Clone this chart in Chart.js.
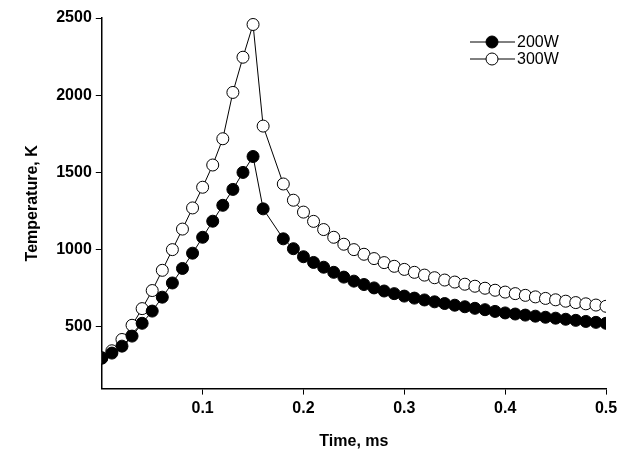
<!DOCTYPE html>
<html>
<head>
<meta charset="utf-8">
<script src="https://cdn.jsdelivr.net/npm/chart.js@4/dist/chart.umd.min.js"></script>
<style>
  html, body { margin: 0; padding: 0; background: #fff; }
  #wrap { width: 630px; height: 455px; }
</style>
</head>
<body>
<div id="wrap"><canvas id="c"></canvas></div>
<script>
// time in ms (0.17 is missing in the original)
const times = [0, 0.01, 0.02, 0.03, 0.04, 0.05, 0.06, 0.07, 0.08, 0.09, 0.10,
  0.11, 0.12, 0.13, 0.14, 0.15, 0.16, 0.18, 0.19, 0.20, 0.21, 0.22, 0.23, 0.24,
  0.25, 0.26, 0.27, 0.28, 0.29, 0.30, 0.31, 0.32, 0.33, 0.34, 0.35, 0.36, 0.37,
  0.38, 0.39, 0.40, 0.41, 0.42, 0.43, 0.44, 0.45, 0.46, 0.47, 0.48, 0.49, 0.50];

const temp200 = [297, 330, 375, 440, 523, 602, 692, 784, 878, 977, 1080,
  1184, 1287, 1390, 1500, 1603, 1264, 1070, 1006, 954, 917, 886, 853, 822,
  796, 774, 752, 732, 715, 699, 686, 674, 662, 651, 640, 630, 620, 611, 600, 590,
  583, 576, 569, 562, 556, 549, 542, 535, 529, 523];

const temp300 = [300, 345, 418, 510, 618, 735, 866, 1000, 1133, 1270, 1404,
  1548, 1718, 2018, 2246, 2458, 1800, 1425, 1320, 1243, 1183, 1130, 1080, 1035,
  1000, 970, 942, 916, 892, 872, 853, 835, 818, 803, 790, 776, 763, 750, 737, 725,
  715, 704, 694, 684, 675, 666, 657, 649, 641, 633];

const seriesNames = ["200W", "300W"];
const yTicks = [500, 1000, 1500, 2000, 2500];
const xTicks = [0.1, 0.2, 0.3, 0.4, 0.5];

const FONT = "'Liberation Sans', Arial, sans-serif";
const axisFont = { family: FONT, size: 16, weight: "bold" };

const toPoints = vals => times.map((t, i) => ({ x: t, y: vals[i] }));

/* ---------- legend drawn like the original: line through marker ---------- */
const legendPlugin = {
  id: "lineLegend",
  afterDraw(chart) {
    const ctx = chart.ctx;
    const x0 = 470, y0 = 42, gap = 17;
    chart.data.datasets.forEach((ds, i) => {
      const y = y0 + i * gap;
      ctx.save();
      ctx.strokeStyle = "#000";
      ctx.lineWidth = 1;
      ctx.beginPath();
      ctx.moveTo(x0, y); ctx.lineTo(x0 + 45, y);
      ctx.stroke();
      ctx.beginPath();
      ctx.arc(x0 + 22, y, 6, 0, Math.PI * 2);
      ctx.fillStyle = ds.pointBackgroundColor;
      ctx.fill();
      ctx.stroke();
      ctx.fillStyle = "#000";
      ctx.font = "16px " + FONT;
      ctx.textBaseline = "middle";
      ctx.fillText(ds.label, x0 + 47, y + 1);
      ctx.restore();
    });
  }
};

new Chart(document.getElementById("c"), {
  type: "line",
  data: {
    datasets: [
      {
        label: seriesNames[0],
        data: toPoints(temp200),
        borderColor: "#000", borderWidth: 1,
        pointRadius: 6, pointBackgroundColor: "#000", pointBorderColor: "#000",
        pointBorderWidth: 1, tension: 0
      },
      {
        label: seriesNames[1],
        data: toPoints(temp300),
        borderColor: "#000", borderWidth: 1,
        pointRadius: 6, pointBackgroundColor: "#fff", pointBorderColor: "#000",
        pointBorderWidth: 1, tension: 0
      }
    ]
  },
  options: {
    responsive: true,
    maintainAspectRatio: false,
    animation: false,
    layout: { padding: { top: 18, right: 24, left: 19, bottom: 0 } },
    plugins: { legend: { display: false }, tooltip: { enabled: false } },
    scales: {
      x: {
        type: "linear", min: 0, max: 0.5,
        afterBuildTicks: s => { s.ticks = xTicks.map(v => ({ value: v })); },
        ticks: { color: "#000", font: axisFont, padding: 4, maxRotation: 0,
                 callback: v => v.toFixed(1) },
        grid: { drawOnChartArea: false, tickLength: 6, color: "#000" },
        border: { color: "#000", width: 1.5 },
        title: { display: true, text: "Time, ms", color: "#000", font: axisFont,
                 padding: { top: 10 } }
      },
      y: {
        min: 100, max: 2500,
        afterBuildTicks: s => { s.ticks = yTicks.map(v => ({ value: v })); },
        ticks: { color: "#000", font: axisFont, padding: 4, callback: v => String(v) },
        grid: { drawOnChartArea: false, tickLength: 6, color: "#000" },
        border: { color: "#000", width: 1.5 },
        title: { display: true, text: "Temperature, K", color: "#000", font: axisFont,
                 padding: { bottom: 10 } }
      }
    }
  },
  plugins: [legendPlugin]
});
</script>
</body>
</html>
